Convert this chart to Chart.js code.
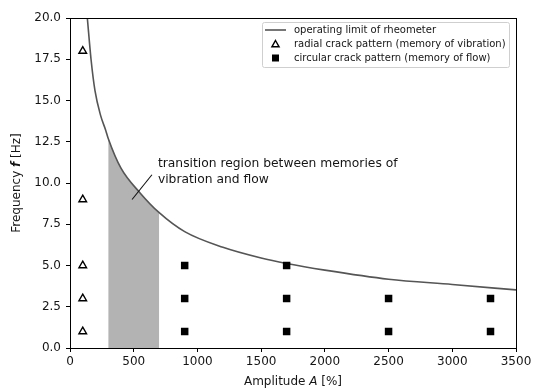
<!DOCTYPE html>
<html><head><meta charset="utf-8">
<script src="https://cdn.jsdelivr.net/npm/chart.js@4/dist/chart.umd.min.js"></script>
<style>html,body{margin:0;padding:0;background:#fff}#wrap{width:535px;height:389px;position:relative}</style>
</head><body><div id="wrap"><canvas id="c" width="535" height="389"></canvas></div>
<script>
// ---- data ----
const limitAmplitude = [136, 165, 196, 240, 280, 300, 400, 550, 700, 900, 1200, 1500, 1700, 2000, 2500, 3000, 3500];
const limitFrequency = [20, 17.5, 15.6, 14.1, 13.2, 12.7, 10.9, 9.4, 8.2, 7.05, 6.1, 5.45, 5.12, 4.72, 4.17, 3.85, 3.52];
const transitionAmplitude = [300, 400, 550, 700];
const transitionFrequency = [12.7, 10.9, 9.4, 8.2];
const radialAmplitude = [100, 100, 100, 100, 100];
const radialFrequency = [1, 3, 5, 9, 18];
const circularAmplitude = [900, 900, 900, 1700, 1700, 1700, 2500, 2500, 3300, 3300];
const circularFrequency = [1, 3, 5, 1, 3, 5, 1, 3, 1, 3];
const xTicks = [0, 500, 1000, 1500, 2000, 2500, 3000, 3500];
const yTicks = [0, 2.5, 5, 7.5, 10, 12.5, 15, 17.5, 20];
const seriesNames = ['operating limit of rheometer', 'radial crack pattern (memory of vibration)', 'circular crack pattern (memory of flow)'];
const annotationLines = ['transition region between memories of', 'vibration and flow'];
const annotationPointer = { from: [487, 9.0], to: [643, 10.5] };
const annotationAnchor = [690, 11.15];

const zip = (xs, ys) => xs.map((x, i) => ({ x, y: ys[i] }));
const TXT = '#151515';
const FONT = 'DejaVu Sans';

const decor = {
  id: 'decor',
  afterDatasetsDraw(chart) {
    const { ctx, chartArea: a, scales: { x, y } } = chart;
    ctx.save();
    // frame
    ctx.strokeStyle = '#000'; ctx.lineWidth = 1;
    ctx.strokeRect(Math.round(a.left) + 0.5, Math.round(a.top) + 0.5, Math.round(a.right - a.left), Math.round(a.bottom - a.top));
    // annotation pointer
    ctx.strokeStyle = '#111'; ctx.lineWidth = 1.1;
    ctx.beginPath();
    ctx.moveTo(x.getPixelForValue(annotationPointer.from[0]), y.getPixelForValue(annotationPointer.from[1]));
    ctx.lineTo(x.getPixelForValue(annotationPointer.to[0]), y.getPixelForValue(annotationPointer.to[1]));
    ctx.stroke();
    // annotation text
    ctx.fillStyle = TXT; ctx.font = '12.3px "' + FONT + '"';
    ctx.textAlign = 'left'; ctx.textBaseline = 'middle';
    const ax = x.getPixelForValue(annotationAnchor[0]);
    const ay = y.getPixelForValue(annotationAnchor[1]);
    annotationLines.forEach((t, i) => ctx.fillText(t, ax, ay + i * 15.5));
    // legend
    const lx = a.right - 254, ly = a.top + 4, lw = 247, lh = 45;
    ctx.fillStyle = 'rgba(255,255,255,0.9)';
    ctx.strokeStyle = '#cfcfcf'; ctx.lineWidth = 1;
    ctx.beginPath();
    if (ctx.roundRect) ctx.roundRect(lx + 0.5, ly + 0.5, lw, lh, 2); else ctx.rect(lx + 0.5, ly + 0.5, lw, lh);
    ctx.fill(); ctx.stroke();
    ctx.font = '10px "' + FONT + '"';
    ctx.textBaseline = 'middle';
    const rows = [ly + 8, ly + 22, ly + 36];
    ctx.strokeStyle = '#555'; ctx.lineWidth = 1.6;
    ctx.beginPath(); ctx.moveTo(lx + 3, rows[0]); ctx.lineTo(lx + 24, rows[0]); ctx.stroke();
    ctx.strokeStyle = '#000'; ctx.lineWidth = 1.4; ctx.fillStyle = '#fff';
    const tx = lx + 13.5, ty = rows[1];
    ctx.beginPath(); ctx.moveTo(tx, ty - 3.5); ctx.lineTo(tx + 3.6, ty + 2.8); ctx.lineTo(tx - 3.6, ty + 2.8); ctx.closePath(); ctx.fill(); ctx.stroke();
    ctx.fillStyle = '#000'; ctx.fillRect(lx + 10, rows[2] - 3.5, 7, 7);
    ctx.fillStyle = TXT;
    seriesNames.forEach((t, i) => ctx.fillText(t, lx + 32, rows[i] + 0.5));
    // axis titles
    const drawParts = (parts, cx, cy) => {
      let total = 0;
      parts.forEach(p => { ctx.font = p[1] + '12px "' + FONT + '"'; total += ctx.measureText(p[0]).width; });
      let px = cx - total / 2;
      ctx.textAlign = 'left';
      parts.forEach(p => { ctx.font = p[1] + '12px "' + FONT + '"'; ctx.fillText(p[0], px, cy); px += ctx.measureText(p[0]).width; });
    };
    ctx.fillStyle = TXT; ctx.textBaseline = 'middle';
    drawParts([['Amplitude ', ''], ['A', 'italic '], [' [%]', '']], (a.left + a.right) / 2, 382);
    ctx.save();
    ctx.translate(17, (a.top + a.bottom) / 2);
    ctx.rotate(-Math.PI / 2);
    drawParts([['Frequency ', ''], ['f', 'italic bold '], [' [Hz]', '']], 0, 0);
    ctx.restore();
    ctx.restore();
  }
};

new Chart(document.getElementById('c'), {
  type: 'scatter',
  data: {
    datasets: [
      { label: seriesNames[1], data: zip(radialAmplitude, radialFrequency), pointStyle: 'triangle', pointRadius: 4.4, pointBackgroundColor: '#fff', pointBorderColor: '#000', pointBorderWidth: 1.4, showLine: false, order: 1 },
      { label: seriesNames[2], data: zip(circularAmplitude, circularFrequency), pointStyle: 'rect', pointRadius: 5.3, pointBackgroundColor: '#000', pointBorderColor: '#000', pointBorderWidth: 0, showLine: false, order: 1 },
      { label: seriesNames[0], data: zip(limitAmplitude, limitFrequency), showLine: true, borderColor: '#555', borderWidth: 1.6, pointRadius: 0, cubicInterpolationMode: 'monotone', fill: false, order: 2 },
      { label: 'transition', data: zip(transitionAmplitude, transitionFrequency), showLine: true, borderWidth: 0, borderColor: 'rgba(0,0,0,0)', backgroundColor: '#b3b3b3', pointRadius: 0, cubicInterpolationMode: 'monotone', fill: 'origin', order: 3 }
    ]
  },
  options: {
    responsive: false, animation: false,
    layout: { padding: { top: 18, right: 19, left: 0, bottom: 0 } },
    plugins: { legend: { display: false }, tooltip: { enabled: false } },
    scales: {
      x: {
        type: 'linear', min: 0, max: 3500,
        afterBuildTicks: s => { s.ticks = xTicks.map(v => ({ value: v })); },
        afterFit: s => { s.height = 41; },
        grid: { drawOnChartArea: false, drawTicks: true, tickLength: 4, color: '#000' },
        border: { color: '#000' },
        ticks: { color: TXT, font: { family: FONT, size: 12 }, padding: 3, maxRotation: 0, callback: v => String(v) }
      },
      y: {
        type: 'linear', min: 0, max: 20,
        afterBuildTicks: s => { s.ticks = yTicks.map(v => ({ value: v })); },
        afterFit: s => { s.width = 70; },
        grid: { drawOnChartArea: false, drawTicks: true, tickLength: 4, color: '#000' },
        border: { color: '#000' },
        ticks: { color: TXT, font: { family: FONT, size: 12 }, padding: 5, callback: v => Number(v).toFixed(1) }
      }
    }
  },
  plugins: [decor]
});
</script></body></html>
